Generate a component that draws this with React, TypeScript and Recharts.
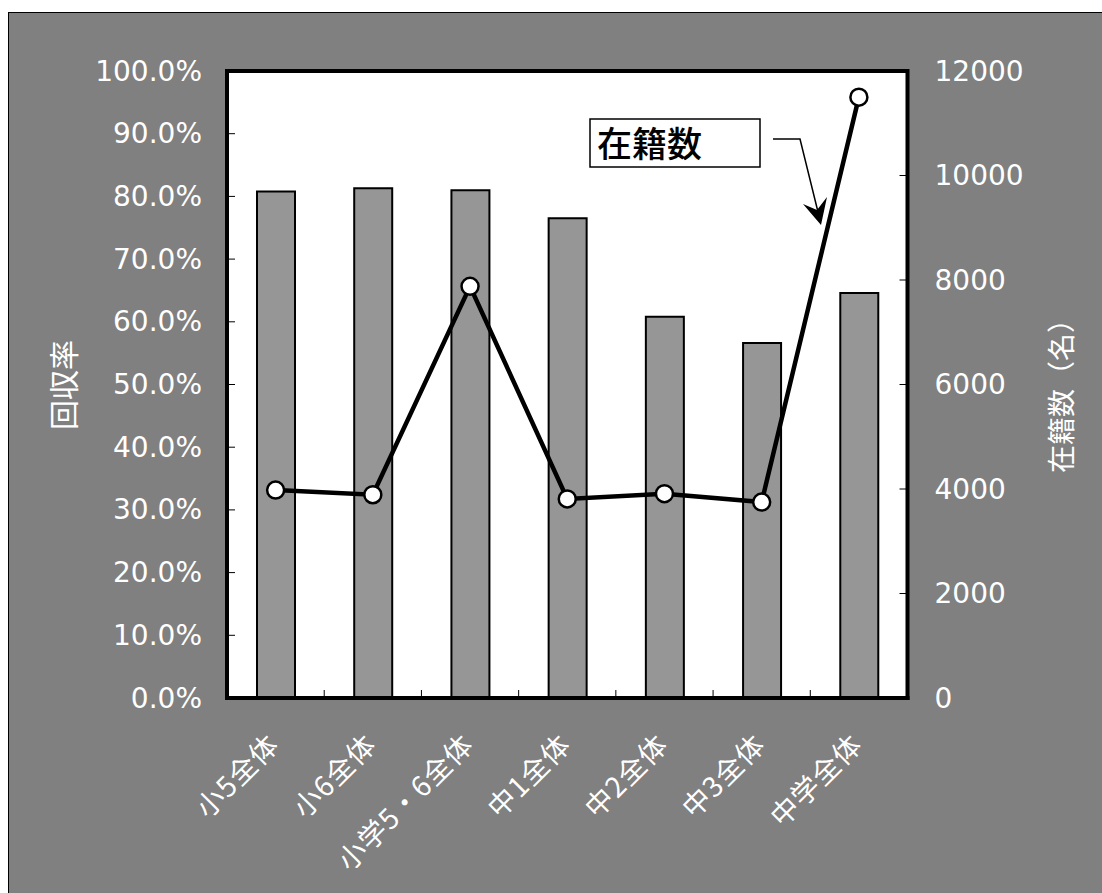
import React from 'react';
import { ComposedChart, Bar, Line, XAxis, YAxis, CartesianGrid, ReferenceLine } from 'recharts';

const categories = ['小5全体', '小6全体', '小学5・6全体', '中1全体', '中2全体', '中3全体', '中学全体'];
const responseRate = [0.808, 0.813, 0.81, 0.765, 0.608, 0.566, 0.646];
const enrolled = [3980, 3890, 7880, 3810, 3910, 3750, 11500];
const rateTicks = [0, 0.1, 0.2, 0.3, 0.4, 0.5, 0.6, 0.7, 0.8, 0.9, 1];
const countTicks = [0, 2000, 4000, 6000, 8000, 10000, 12000];

const data = categories.map((name, i) => ({ name, rate: responseRate[i], enrolled: enrolled[i] }));

const JP = "'Noto Sans CJK JP', sans-serif";
const LAT = "'DejaVu Sans', sans-serif";

const XTick = (props: any) => {
  const { x, y, payload, index } = props;
  const half = payload && typeof payload.offset === 'number' ? payload.offset : 48.6;
  const ax = x - 3;
  const ay = y + 40;
  return (
    <g>
      {index < categories.length - 1 && (
        <line x1={x + half} x2={x + half} y1={y} y2={y - 8} stroke="#000" strokeWidth={1} />
      )}
      <text
        x={ax}
        y={ay}
        transform={`rotate(-45 ${ax} ${ay})`}
        textAnchor="end"
        dominantBaseline="central"
        fill="#fff"
        style={{ fontSize: '28px', fontFamily: JP, letterSpacing: '1px' }}
      >
        {payload.value}
      </text>
    </g>
  );
};

const LeftTick = (props: any) => {
  const { x, y, payload } = props;
  return (
    <g>
      <line x1={x} x2={x + 8} y1={y} y2={y} stroke="#000" strokeWidth={1} />
      <text x={x - 25} y={y} textAnchor="end" dominantBaseline="central" fill="#fff" fontSize={28} fontFamily={LAT}>
        {(payload.value * 100).toFixed(1) + '%'}
      </text>
    </g>
  );
};

const RightTick = (props: any) => {
  const { x, y, payload } = props;
  return (
    <g>
      <line x1={x - 8} x2={x} y1={y} y2={y} stroke="#000" strokeWidth={1} />
      <text x={x + 27} y={y} textAnchor="start" dominantBaseline="central" fill="#fff" fontSize={28} fontFamily={LAT}>
        {String(payload.value)}
      </text>
    </g>
  );
};

const border = { stroke: '#000', strokeWidth: 4, strokeLinecap: 'square' as const };

export default function App() {
  return (
    <div style={{ position: 'relative', width: 1102, height: 893, overflow: 'hidden' }}>
      <style>{`html,body{margin:0;padding:0;overflow:hidden;}`}</style>
      <div
        style={{
          position: 'absolute',
          left: 8,
          top: 12,
          width: 1094,
          height: 881,
          boxSizing: 'border-box',
          background: '#808080',
          borderLeft: '1px solid #000',
          borderTop: '1px solid #000',
        }}
      >
        <ComposedChart
          width={1093}
          height={880}
          data={data}
          margin={{ top: 58, right: 44.5, bottom: 45, left: 68 }}
        >
          <CartesianGrid yAxisId="left" fill="#fff" stroke="none" horizontal={false} vertical={false} />
          <XAxis
            dataKey="name"
            height={150}
            interval={0}
            tickSize={0}
            tickMargin={0}
            tickLine={false}
            axisLine={border}
            tick={<XTick />}
          />
          <YAxis
            yAxisId="left"
            width={150}
            domain={[0, 1]}
            ticks={rateTicks}
            interval={0}
            tickSize={0}
            tickMargin={0}
            tickLine={false}
            axisLine={border}
            tick={<LeftTick />}
          />
          <YAxis
            yAxisId="right"
            orientation="right"
            width={150}
            domain={[0, 12000]}
            ticks={countTicks}
            interval={0}
            tickSize={0}
            tickMargin={0}
            tickLine={false}
            axisLine={border}
            tick={<RightTick />}
          />
          <ReferenceLine yAxisId="left" y={1} stroke="#000" strokeWidth={4} ifOverflow="extendDomain" />
          <Bar
            yAxisId="left"
            dataKey="rate"
            barSize={38}
            fill="#969696"
            stroke="#000"
            strokeWidth={2}
            isAnimationActive={false}
          />
          <Line
            yAxisId="right"
            dataKey="enrolled"
            type="linear"
            stroke="#000"
            strokeWidth={4.5}
            dot={{ r: 8.5, fill: '#fff', stroke: '#000', strokeWidth: 2.5 }}
            activeDot={false}
            isAnimationActive={false}
          />
        </ComposedChart>
      </div>
      <svg
        width={1102}
        height={893}
        style={{ position: 'absolute', left: 0, top: 0, pointerEvents: 'none' }}
      >
        <text
          x={62}
          y={385}
          transform="rotate(-90 62 385)"
          textAnchor="middle"
          dominantBaseline="central"
          fill="#fff"
          fontSize={30}
          fontFamily={JP}
        >
          回収率
        </text>
        <text
          x={1060}
          y={389}
          transform="rotate(-90 1060 389)"
          textAnchor="middle"
          dominantBaseline="central"
          fill="#fff"
          fontSize={28}
          fontFamily={JP}
        >
          在籍数（名）
        </text>
        <rect x={590} y={119} width={170} height={48} fill="#fff" stroke="#000" strokeWidth={1.5} />
        <text x={597} y={141} dominantBaseline="central" fill="#000" fontSize={35} fontFamily={JP} fontWeight={500}>
          在籍数
        </text>
        <polyline points="773,139 800,139 818,212" fill="none" stroke="#000" strokeWidth={1.5} />
        <polygon points="821,225 803,204 817,210 827,197" fill="#000" />
      </svg>
    </div>
  );
}
